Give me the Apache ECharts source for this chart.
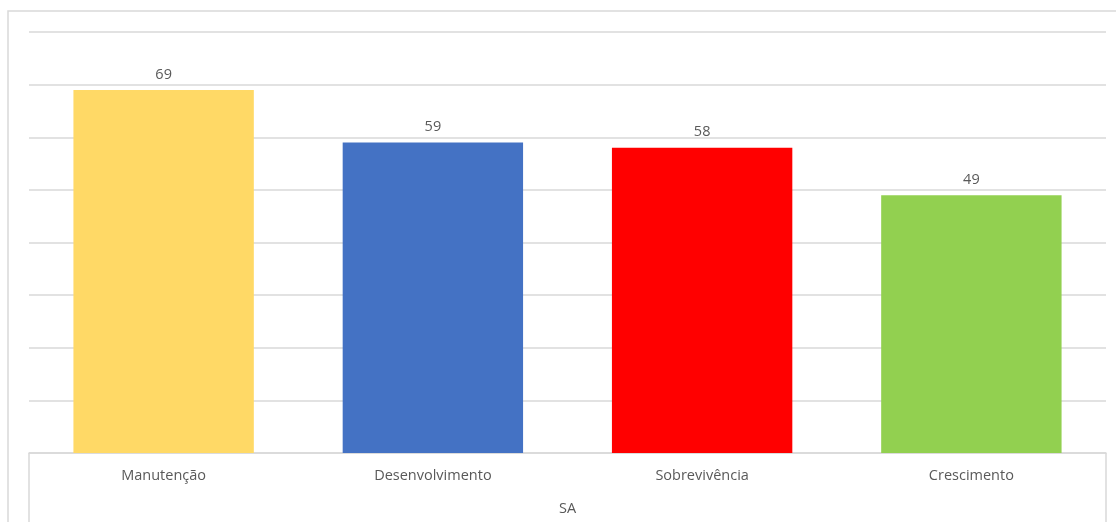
<!DOCTYPE html>
<html>
<head>
<meta charset="utf-8">
<script src="https://cdn.jsdelivr.net/npm/echarts@6/dist/echarts.min.js"></script>
<style>
  html, body { margin: 0; padding: 0; background: #fff; }
  #chart { width: 1116px; height: 522px; }
</style>
</head>
<body>
<div id="chart"></div>
<script>
// Estágios e pontuações do grupo SA
const categories = ['Manutenção', 'Desenvolvimento', 'Sobrevivência', 'Crescimento'];
const values = [69, 59, 58, 49];
const barColors = ['#FFD966', '#4472C4', '#FF0000', '#92D050'];
const groupName = 'SA';

const GRID = { left: 29, right: 10, top: 32, bottom: 69 };
const W = 1116, H = 522;
const lineColor = '#d9d9d9';
const textColor = '#595959';
const fontFamily = '"Open Sans", "Noto Sans", sans-serif';

const chart = echarts.init(document.getElementById('chart'), null, { renderer: 'canvas' });

chart.setOption({
  animation: false,
  backgroundColor: '#fff',
  grid: Object.assign({ outerBoundsMode: 'none', containLabel: false }, GRID),
  xAxis: {
    type: 'category',
    data: categories,
    name: groupName,
    nameLocation: 'middle',
    nameGap: 48,
    nameTextStyle: { color: textColor, fontSize: 14.5, fontFamily },
    axisLine: { show: true, lineStyle: { color: lineColor, width: 1.5 } },
    axisTick: { show: false },
    axisLabel: { color: textColor, fontSize: 14.5, fontFamily, margin: 15 }
  },
  yAxis: {
    type: 'value',
    min: 0,
    max: 80,
    interval: 10,
    axisLabel: { show: false },
    axisLine: { show: false },
    axisTick: { show: false },
    splitLine: { lineStyle: { color: lineColor, width: 1.5 } }
  },
  series: [{
    type: 'bar',
    data: values.map((v, i) => ({ value: v, itemStyle: { color: barColors[i] } })),
    barCategoryGap: '33%',
    label: {
      show: true,
      position: 'top',
      distance: 8,
      color: textColor,
      fontSize: 14.5,
      fontFamily
    }
  }],
  graphic: [
    // chart frame
    {
      type: 'rect',
      shape: { x: 8, y: 11, width: W + 20, height: H + 20 },
      style: { fill: null, stroke: lineColor, lineWidth: 1.5 },
      silent: true
    },
    // category table side borders
    {
      type: 'line',
      shape: { x1: GRID.left, y1: H - GRID.bottom, x2: GRID.left, y2: H + 5 },
      style: { stroke: lineColor, lineWidth: 1.5 },
      silent: true
    },
    {
      type: 'line',
      shape: { x1: W - GRID.right, y1: H - GRID.bottom, x2: W - GRID.right, y2: H + 5 },
      style: { stroke: lineColor, lineWidth: 1.5 },
      silent: true
    }
  ]
});
</script>
</body>
</html>
